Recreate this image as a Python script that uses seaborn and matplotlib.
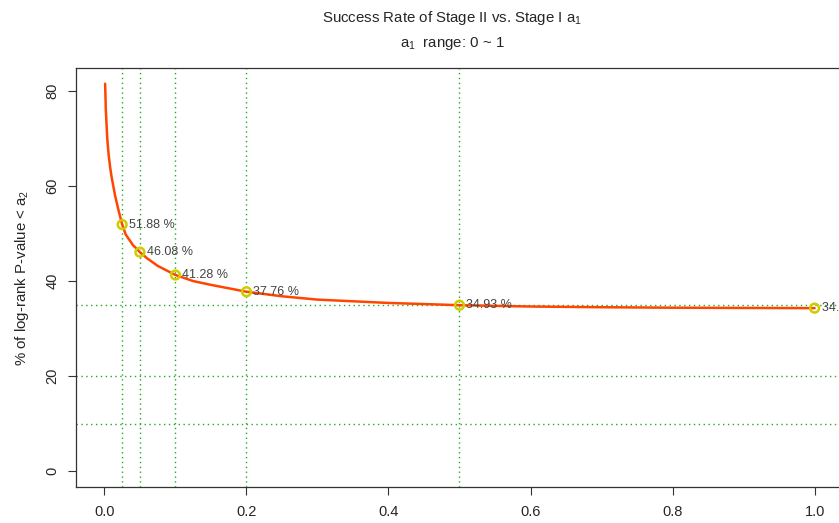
import numpy as np
import pandas as pd
import matplotlib
matplotlib.use("Agg")
import matplotlib.pyplot as plt
import seaborn as sns

# curve
a1 = [0.001, 0.002, 0.004, 0.006, 0.008, 0.01, 0.015, 0.02, 0.025, 0.03, 0.04,
      0.05, 0.06, 0.075, 0.1, 0.125, 0.15, 0.2, 0.25, 0.3, 0.4, 0.5, 0.6,
      0.7, 0.8, 0.9, 1.0]
rate = [81.5, 76.0, 70.0, 66.5, 64.0, 62.0, 58.0, 54.8, 51.88, 49.8, 47.6,
        46.08, 44.8, 43.2, 41.28, 40.0, 39.2, 37.76, 36.8, 36.1, 35.4, 34.93,
        34.65, 34.5, 34.4, 34.35, 34.31]

# highlighted points
pt_x = [0.025, 0.05, 0.1, 0.2, 0.5, 1.0]
pt_y = [51.88, 46.08, 41.28, 37.76, 34.93, 34.31]

# reference lines
vlines = [0.025, 0.05, 0.1, 0.2, 0.5]
hlines = [35, 20, 10]

xticks = [0.0, 0.2, 0.4, 0.6, 0.8, 1.0]
yticks = [0, 20, 40, 60, 80]

sns.set_style("ticks")
plt.rcParams['font.family'] = ['Liberation Sans', 'DejaVu Sans']
plt.rcParams['mathtext.fontset'] = 'custom'
plt.rcParams['mathtext.rm'] = 'Liberation Sans'
plt.rcParams['mathtext.it'] = 'Liberation Sans'

df = pd.DataFrame({'a1': a1, 'rate': rate})
pts = pd.DataFrame({'a1': pt_x, 'rate': pt_y})

fig = plt.figure(figsize=(8.39, 5.23), dpi=100)
ax = fig.add_axes([76 / 839, 36 / 523, 767 / 839, 419 / 523])

green = '#22aa22'
for v in vlines:
    ax.axvline(v, color=green, lw=1, ls=(0, (1, 2.5)), zorder=1)
for h in hlines:
    ax.axhline(h, color=green, lw=1, ls=(0, (1, 2.5)), zorder=1)

sns.lineplot(data=df, x='a1', y='rate', ax=ax, color='#ff4500', lw=1.8, zorder=3)
sns.scatterplot(data=pts, x='a1', y='rate', ax=ax, s=40, facecolor='none',
                edgecolor='#cdcd00', linewidth=1.8, zorder=4)

for x, y in zip(pt_x, pt_y):
    ax.annotate(f"{y:.2f} %", (x, y), xytext=(5, 0), textcoords='offset points',
                va='center', ha='left', fontsize=9, color='#444444',
                annotation_clip=False)

ax.set_xlim(-0.04, 1.04)
ax.set_ylim(-3.3, 84.8)
ax.set_xticks(xticks)
ax.set_xticklabels([f"{t:.1f}" for t in xticks])
ax.set_yticks(yticks)
ax.set_yticklabels([str(t) for t in yticks], rotation=90, va='center')
ax.tick_params(axis='both', length=6, width=0.8, labelsize=10.5, color='#333333')
ax.tick_params(axis='x', pad=7)
ax.tick_params(axis='y', pad=6)
for s in ax.spines.values():
    s.set_linewidth(0.9)
    s.set_color('#333333')

ax.set_xlabel('')
ax.set_ylabel('% of log-rank P-value < $a_2$', fontsize=10.8, labelpad=10)

fig.text(452 / 839, 1 - 18 / 523, 'Success Rate of Stage II vs. Stage I $a_1$',
         ha='center', va='center', fontsize=10.8)
fig.text(452 / 839, 1 - 43 / 523, '$a_1$  range: 0 ~ 1',
         ha='center', va='center', fontsize=10.8)

fig.savefig('out.png', dpi=100)
